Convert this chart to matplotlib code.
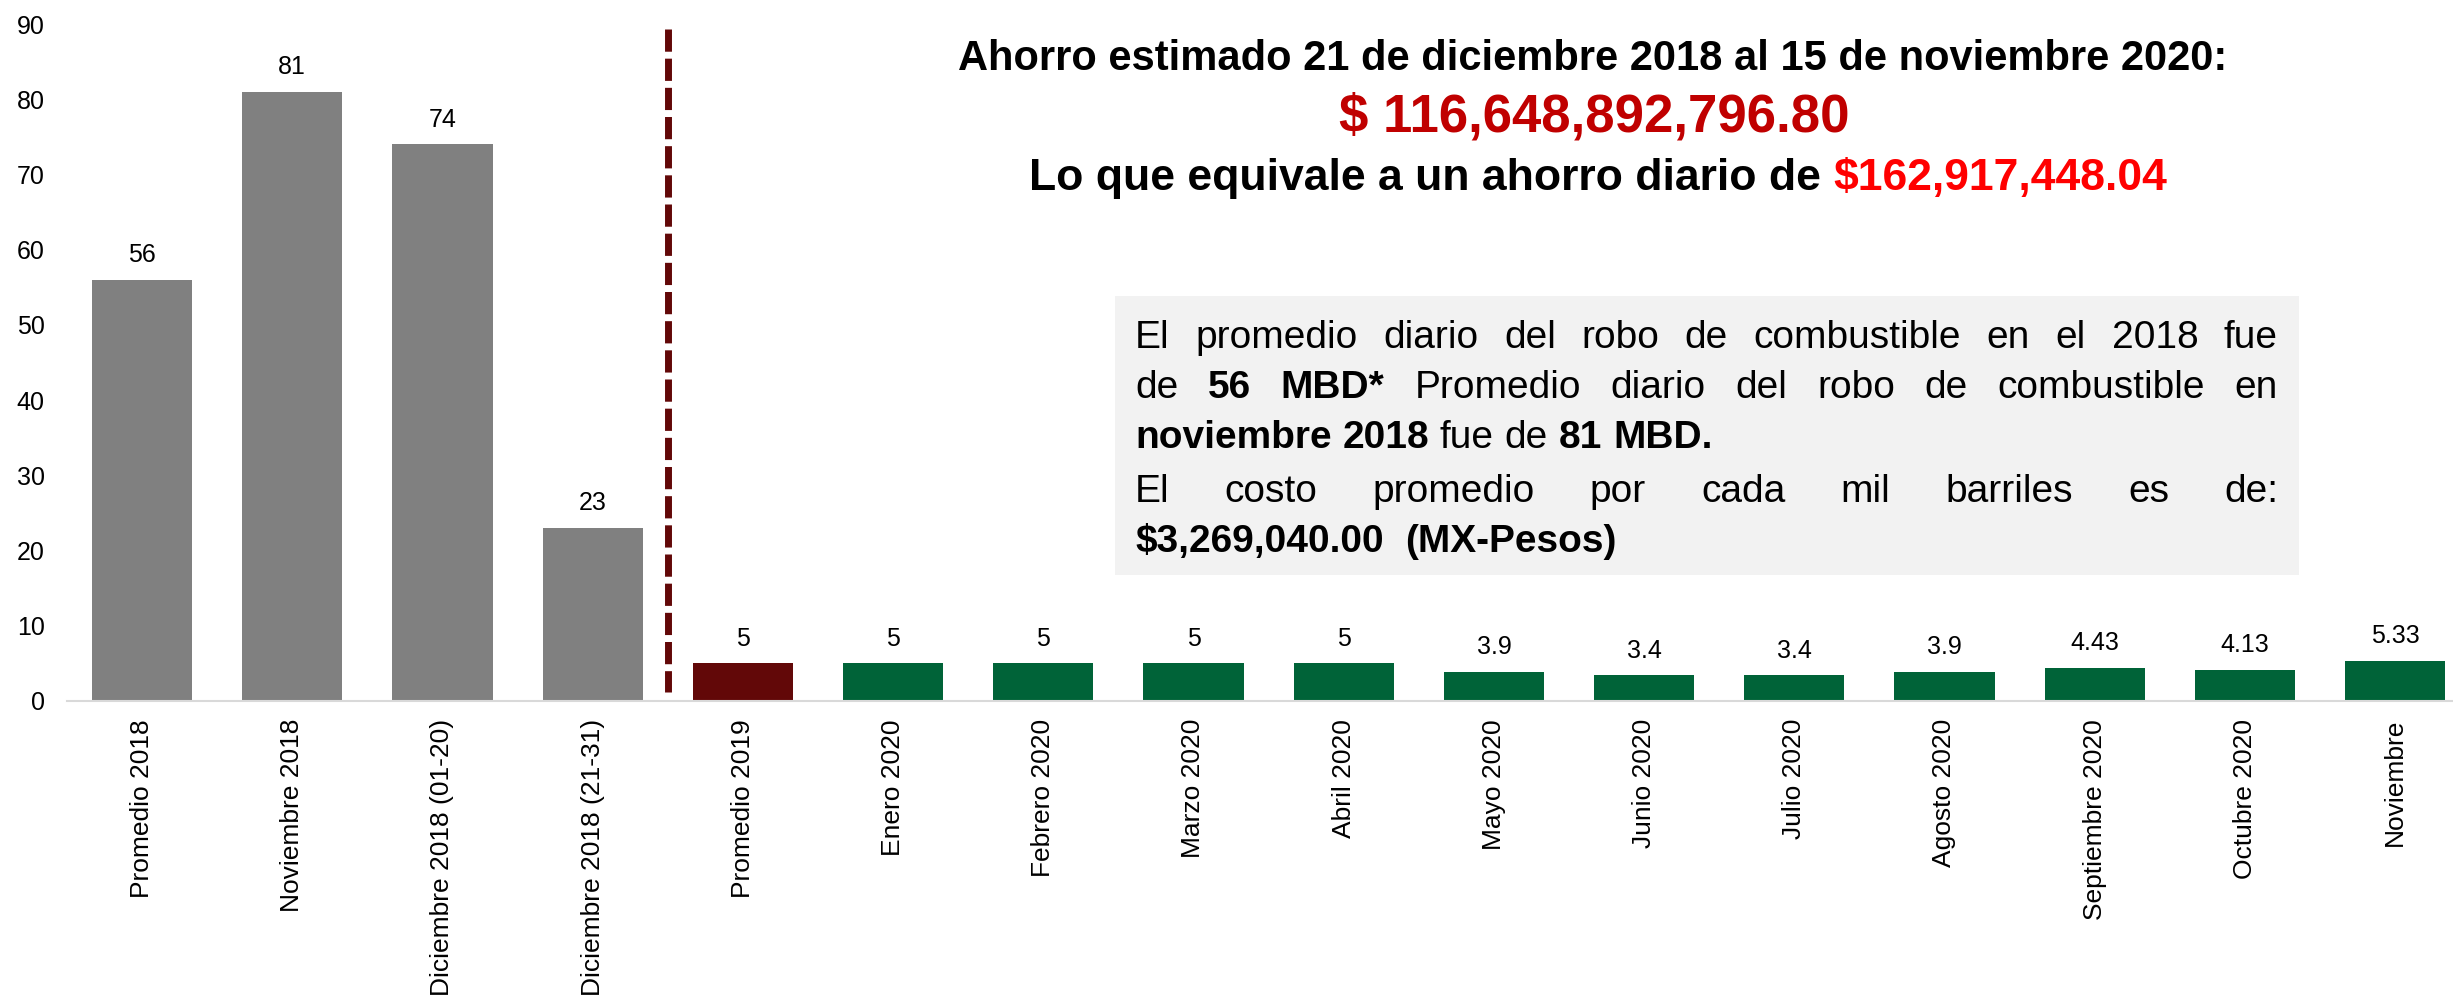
import matplotlib.pyplot as plt
from matplotlib.patches import Rectangle

categories = ["Promedio 2018", "Noviembre 2018", "Diciembre 2018 (01-20)", "Diciembre 2018 (21-31)",
              "Promedio 2019", "Enero 2020", "Febrero 2020", "Marzo 2020", "Abril 2020", "Mayo 2020",
              "Junio 2020", "Julio 2020", "Agosto 2020", "Septiembre 2020", "Octubre 2020", "Noviembre"]
values = [56, 81, 74, 23, 5, 5, 5, 5, 5, 3.9, 3.4, 3.4, 3.9, 4.43, 4.13, 5.33]

title1 = "Ahorro estimado 21 de diciembre 2018 al 15 de noviembre 2020:"
title2 = "$ 116,648,892,796.80"
title3a = "Lo que equivale a un ahorro diario de"
title3b = "$162,917,448.04"

# box text: (word, bold?) per line, and whether the line is justified
box_lines = [
    ([("El", 0), ("promedio", 0), ("diario", 0), ("del", 0), ("robo", 0), ("de", 0), ("combustible", 0),
      ("en", 0), ("el", 0), ("2018", 0), ("fue", 0)], True),
    ([("de", 0), ("56", 1), ("MBD*", 1), ("Promedio", 0), ("diario", 0), ("del", 0), ("robo", 0),
      ("de", 0), ("combustible", 0), ("en", 0)], True),
    ([("noviembre", 1), ("2018", 1), ("fue", 0), ("de", 0), ("81", 1), ("MBD.", 1)], False),
    ([("El", 0), ("costo", 0), ("promedio", 0), ("por", 0), ("cada", 0), ("mil", 0), ("barriles", 0),
      ("es", 0), ("de:", 0)], True),
    ([("$3,269,040.00", 1), ("", 1), ("(MX-Pesos)", 1)], False),
]

plt.rcParams['font.family'] = ['Liberation Sans', 'DejaVu Sans']

W, H = 2453, 998
fig = plt.figure(figsize=(W / 100, H / 100), dpi=100)
fig.patch.set_facecolor("white")
ax = fig.add_axes([67 / W, (H - 701) / H, (W - 67) / W, (701 - 24) / H])

colors = ["#808080"] * 4 + ["#620808"] + ["#006338"] * 11
x = list(range(len(values)))
bars = ax.bar(x, values, width=0.667, color=colors)
ax.bar_label(bars, labels=[f"{v:g}" for v in values], padding=9, fontsize=18)

ax.set_ylim(0, 90)
ax.set_xlim(-0.5, (W - 67) / 150.2 - 0.5)
ax.set_yticks(range(0, 91, 10))
ax.tick_params(axis="y", length=0, labelsize=18, pad=16)
ax.set_xticks(x)
ax.set_xticklabels(categories, rotation=90, fontsize=19, va="top")
ax.tick_params(axis="x", length=0, pad=13)
for s in ["top", "right", "left"]:
    ax.spines[s].set_visible(False)
ax.spines["bottom"].set_color("#d9d9d9")
ax.spines["bottom"].set_linewidth(1.5)

ax.axvline(3.5, ymin=89.3 / 90, ymax=1.2 / 90, color="#620808", linewidth=5,
           linestyle=(0, (3.2, 1.0)))


def fx(px):
    return px / W


def fy(py):
    return 1 - py / H


renderer = fig.canvas.get_renderer()

fig.text(fx(1593), fy(70), title1, fontsize=30, fontweight="bold", ha="center", va="baseline")
fig.text(fx(1594), fy(132), title2, fontsize=38, fontweight="bold", color="#c00000",
         ha="center", va="baseline")
ta = fig.text(0, fy(190), title3a, fontsize=32, fontweight="bold", va="baseline")
tb = fig.text(0, fy(190), title3b, fontsize=32, fontweight="bold", color="#ff0000", va="baseline")
wa = ta.get_window_extent(renderer).width
wb = tb.get_window_extent(renderer).width
sp = 0.278 * 32 * 100 / 72
left = 1598 - (wa + sp + wb) / 2
ta.set_x(fx(left))
tb.set_x(fx(left + wa + sp))

fig.patches.append(Rectangle((fx(1115), fy(575)), fx(2299 - 1115), (575 - 296) / H,
                             transform=fig.transFigure, facecolor="#f2f2f2", edgecolor="none",
                             zorder=0))

box_size = 28
box_space = 0.278 * box_size * 100 / 72
baselines = [348, 398, 448, 502, 552]
x0, x1 = 1135, 2278
for (tokens, justify), base in zip(box_lines, baselines):
    texts = []
    for word, bold in tokens:
        t = fig.text(0, fy(base), word, fontsize=box_size,
                     fontweight="bold" if bold else "normal", va="baseline")
        texts.append(t)
    widths = [t.get_window_extent(renderer).width if t.get_text() else 0 for t in texts]
    if justify:
        gap = (x1 - x0 - sum(widths)) / (len(texts) - 1)
    else:
        gap = box_space
    pos = x0
    for t, w in zip(texts, widths):
        t.set_x(fx(pos))
        pos += w + gap

fig.savefig("out.png", dpi=100)
